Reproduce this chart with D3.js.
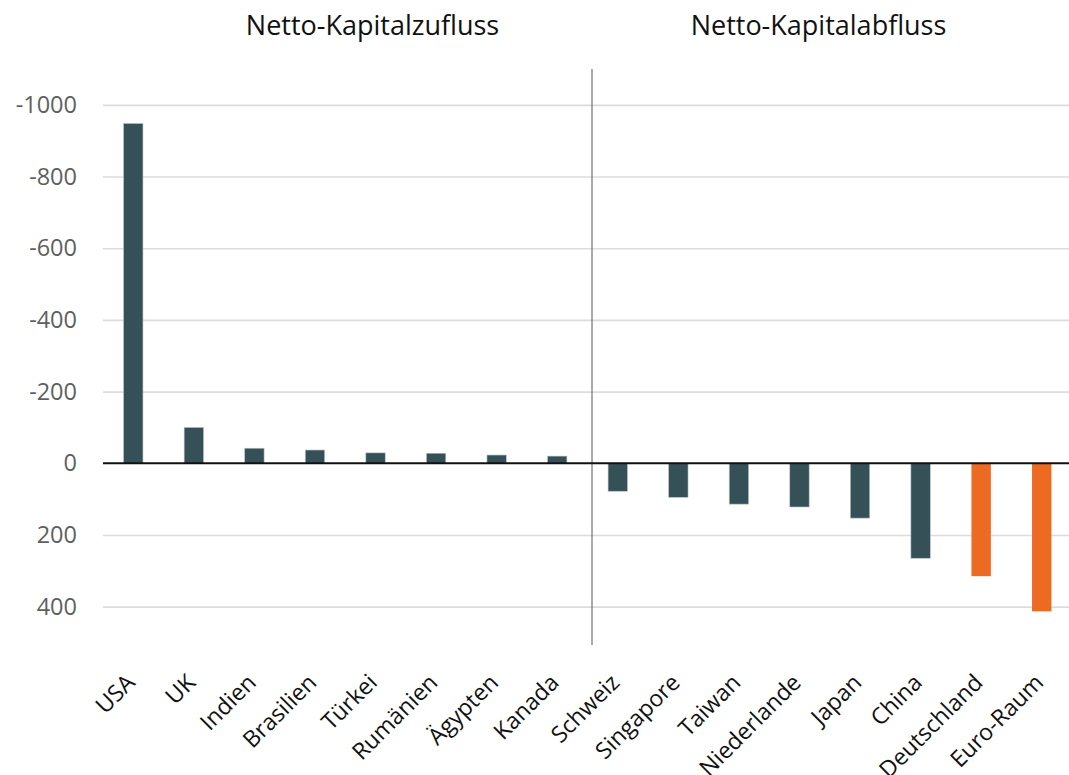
<!DOCTYPE html>
<html>
<head>
<meta charset="utf-8">
<script src="https://cdn.jsdelivr.net/npm/d3@7"></script>
<style>
  html, body { margin: 0; padding: 0; background: #fff; }
  svg { display: block; }
  svg text { font-family: "Open Sans", "Noto Sans", sans-serif; }
</style>
</head>
<body>
<svg id="chart" width="1069" height="775"></svg>
<script>
// Net capital flows by economy (negative = inflow, positive = outflow)
const countries = ["USA", "UK", "Indien", "Brasilien", "Türkei", "Rumänien", "Ägypten", "Kanada",
  "Schweiz", "Singapore", "Taiwan", "Niederlande", "Japan", "China", "Deutschland", "Euro-Raum"];
const flows = [-948, -100, -42, -37, -29, -28, -23, -20, 78, 95, 114, 122, 153, 265, 315, 413];
const highlighted = ["Deutschland", "Euro-Raum"];
const yTicks = [-1000, -800, -600, -400, -200, 0, 200, 400];
const groupTitles = ["Netto-Kapitalzufluss", "Netto-Kapitalabfluss"];

const W = 1069, H = 775;
const plot = { left: 103, right: 1072, top: 69, bottom: 645 };
const FONT = '"Open Sans", "Noto Sans", sans-serif';

const svg = d3.select("#chart");

const x = d3.scaleBand()
  .domain(countries)
  .range([plot.left, plot.right])
  .paddingInner(0.68)
  .paddingOuter(0.34);

const y = d3.scaleLinear()
  .domain([-1100, 507])
  .range([plot.top, plot.bottom]);

// Horizontal grid with tick labels
const yAxis = d3.axisLeft(y)
  .tickValues(yTicks)
  .tickSize(-(plot.right - plot.left))
  .tickPadding(26)
  .tickFormat(d => String(d));

const gy = svg.append("g")
  .attr("transform", `translate(${plot.left},0)`)
  .call(yAxis)
  .attr("font-family", FONT);
gy.select(".domain").remove();
gy.selectAll(".tick line")
  .attr("stroke-width", 1.6)
  .attr("stroke", d => d === 0 ? "none" : "#dcdcdc");
gy.selectAll(".tick text")
  .attr("fill", "#5f5f5f")
  .style("font-size", "23.5px");

// Divider between inflow and outflow groups
const dividerX = x("Schweiz") - (x.step() - x.bandwidth()) / 2 + 4.5;
svg.append("line")
  .attr("x1", dividerX).attr("x2", dividerX)
  .attr("y1", plot.top).attr("y2", plot.bottom)
  .attr("stroke", "#555")
  .attr("stroke-width", 1);

// Bars
svg.append("g")
  .selectAll("rect")
  .data(countries.map((c, i) => ({ c, v: flows[i] })))
  .join("rect")
  .attr("x", d => x(d.c))
  .attr("width", x.bandwidth())
  .attr("y", d => Math.min(y(0), y(d.v)))
  .attr("height", d => Math.abs(y(d.v) - y(0)))
  .attr("fill", d => highlighted.includes(d.c) ? "#ec6a22" : "#365057")
  .attr("stroke", d => highlighted.includes(d.c) ? "none" : "#b8c4c6")
  .attr("stroke-width", 0.6);

// Zero line
svg.append("line")
  .attr("x1", plot.left).attr("x2", W)
  .attr("y1", y(0)).attr("y2", y(0))
  .attr("stroke", "#111")
  .attr("stroke-width", 2);

// Category labels
svg.append("g")
  .selectAll("text")
  .data(countries)
  .join("text")
  .attr("transform", d => `translate(${x(d) + x.bandwidth() / 2 + 3},${plot.bottom + 39}) rotate(-45)`)
  .attr("text-anchor", "end")
  .attr("fill", "#111")
  .style("font-size", "23px")
  .text(d => d);

// Group titles
const groupCenters = [
  (plot.left + dividerX) / 2 + 25,
  (dividerX + W) / 2 - 12
];
svg.append("g")
  .selectAll("text")
  .data(groupTitles)
  .join("text")
  .attr("x", (d, i) => groupCenters[i])
  .attr("y", 35)
  .attr("text-anchor", "middle")
  .attr("fill", "#111")
  .style("font-size", "27px")
  .text(d => d);
</script>
</body>
</html>
